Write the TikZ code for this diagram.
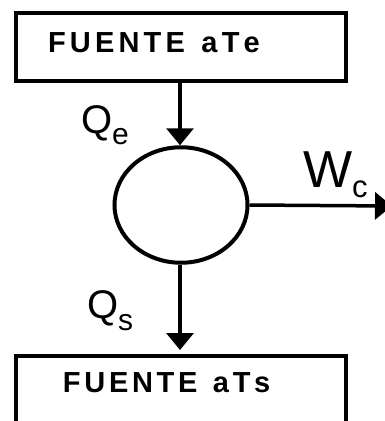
\documentclass[tikz,border=0pt]{standalone}
\usepackage{fontspec}
\setmainfont{Liberation Sans}
\usetikzlibrary{arrows.meta,shapes.geometric}
\makeatletter
\newcommand\lspaced[2]{\def\lsp@k{#1}\@tfor\lsp@c:=#2\do{\lsp@c\kern\lsp@k}}
\makeatother
\newcommand\ttlfont{\fontsize{29pt}{29pt}\selectfont\bfseries}
\begin{document}
\begin{tikzpicture}[x=1pt,y=-1pt,line width=4pt,
  box/.style={draw, rectangle, inner sep=0pt, anchor=north west, minimum width=329.7pt},
  ttl/.style={inner sep=0pt, anchor=base west},
  lab/.style={inner sep=0pt, anchor=base west},
  arr/.style={-{Triangle[width=27pt,length=17pt]}, line width=3.5pt}]
\useasboundingbox (0,0) rectangle (384,421);
\node[box, minimum height=67.7pt] (top) at (14.3,11.3) {};
\node[box, minimum height=100pt] (bot) at (14.3,354) {};
\node[ttl] (ttop) at (46,52) {\ttlfont\lspaced{4.2pt}{FUENTE\ aTe}};
\node[ttl] (tbot) at (61,392) {\ttlfont\lspaced{3.7pt}{FUENTE\ aTs}};
\node[draw, ellipse, inner sep=0pt, minimum width=133pt, minimum height=115.5pt] (c) at (181,205) {};
\coordinate (wend) at (392,206);
\draw[arr] ([xshift=-1pt]top.south -| c.north) -- ([xshift=-1pt]c.north);
\draw[arr] ([xshift=-1pt]c.south) -- ([xshift=-1pt,yshift=4pt]c.south |- bot.north);
\draw[arr] (c.east) -- (wend);
\node[lab, font=\fontsize{40}{40}\selectfont] (qe) at (79,133) {Q\raisebox{-11pt}{\fontsize{30}{30}\selectfont e}};
\node[lab, font=\fontsize{40}{40}\selectfont] (qs) at (85,318) {Q\raisebox{-12pt}{\fontsize{30}{30}\selectfont s}};
\node[lab, font=\fontsize{52}{52}\selectfont] (wc) at (301,187) {W\raisebox{-10pt}{\fontsize{31}{31}\selectfont c}};
\end{tikzpicture}
\end{document}
